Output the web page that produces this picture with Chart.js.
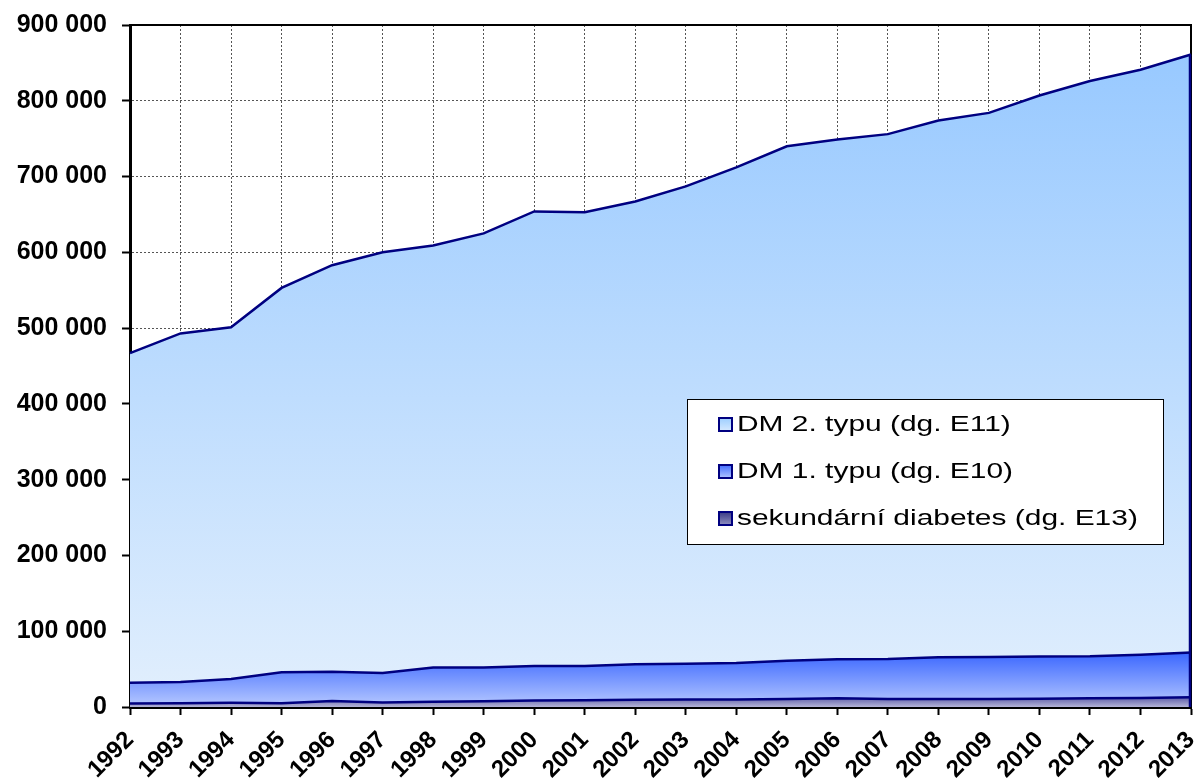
<!DOCTYPE html>
<html>
<head>
<meta charset="utf-8">
<script src="https://cdn.jsdelivr.net/npm/chart.js@4.4.1/dist/chart.umd.min.js"></script>
<style>
    html, body { margin: 0; padding: 0; background: #ffffff; }
    #wrap { width: 1200px; height: 782px; }
</style>
</head>
<body>
<div id="wrap"><canvas id="graf"></canvas></div>
<script>

// ================= DATI =================

const roky = ["1992", "1993", "1994", "1995", "1996", "1997", "1998", "1999", "2000", "2001", "2002",
    "2003", "2004", "2005", "2006", "2007", "2008", "2009", "2010", "2011", "2012", "2013"];

const dm2 = [435000, 460000, 464000, 507000, 536500, 555000, 557000, 573000, 600000, 599000, 610500,
    630000, 654000, 679000, 686000, 692500, 708500, 718000, 740500, 759000, 772000, 789000];

const dm1 = [27500, 28000, 31500, 41000, 38500, 39000, 45000, 44500, 45500, 45000, 47000,
    47000, 48000, 50500, 51500, 53000, 55000, 55500, 55500, 55500, 57000, 59000];

const sekundarni = [4500, 5000, 5500, 5000, 8000, 6000, 7000, 7500, 8500, 9000, 9500,
    10000, 10000, 10500, 11500, 10500, 10500, 10500, 11000, 11500, 12000, 13000];

const nazvy = ["DM 2. typu (dg. E11)", "DM 1. typu (dg. E10)", "sekundární diabetes (dg. E13)"];

const osaYMax = 900000;
const osaYKrok = 100000;

// ================= POMOCNÉ =================

function formatCislo(v) {
    return String(v).replace(/\B(?=(\d{3})+(?!\d))/g, " ");
}

// gradient na výšku sady (od jejího maxima k nule)
function gradient(horniBarva, dolniBarva, vrchol) {
    return function (ctx) {
        const chart = ctx.chart;
        const area = chart.chartArea;
        if (!area) return horniBarva;
        const y = chart.scales.y;
        const g = chart.ctx.createLinearGradient(0, y.getPixelForValue(vrchol), 0, area.bottom);
        g.addColorStop(0, horniBarva);
        g.addColorStop(1, dolniBarva);
        return g;
    };
}

const soucty = roky.map((_, i) => dm2[i] + dm1[i] + sekundarni[i]);

// ================= PLUGINY =================

const ramecek = {
    id: "ramecek",
    beforeDatasetsDraw(chart) {
        const { ctx, chartArea: a } = chart;
        ctx.save();
        ctx.strokeStyle = "#000000";
        ctx.lineWidth = 2;
        ctx.beginPath();
        ctx.moveTo(a.left, a.top);
        ctx.lineTo(a.right, a.top);
        ctx.lineTo(a.right, a.bottom);
        ctx.stroke();
        ctx.restore();
    },
    afterDatasetsDraw(chart) {
        const { ctx, chartArea: a } = chart;
        const y = chart.scales.y;
        ctx.save();
        ctx.strokeStyle = "#000080";
        ctx.lineWidth = 2.5;
        ctx.beginPath();
        ctx.moveTo(a.right - 1, y.getPixelForValue(soucty[soucty.length - 1]));
        ctx.lineTo(a.right - 1, a.bottom);
        ctx.stroke();
        ctx.restore();
    }
};

const legenda = {
    id: "legenda",
    afterDraw(chart) {
        const ctx = chart.ctx;
        const x = 687, y = 399, w = 476, h = 145;
        ctx.save();
        ctx.fillStyle = "#ffffff";
        ctx.fillRect(x, y, w, h);
        ctx.strokeStyle = "#000000";
        ctx.lineWidth = 1;
        ctx.strokeRect(x + 0.5, y + 0.5, w, h);

        const barvy = [["#d6e9ff", "#99ccff"], ["#b0c4ff", "#3a66ff"], ["#9090c0", "#333380"]];
        ctx.font = "22px 'Liberation Sans', Arial, sans-serif";
        ctx.textBaseline = "middle";
        nazvy.forEach((t, i) => {
            const ty = y + 25 + i * 47;
            const g = ctx.createLinearGradient(0, ty - 7, 0, ty + 7);
            g.addColorStop(0, barvy[i][1]);
            g.addColorStop(1, barvy[i][0]);
            ctx.fillStyle = g;
            ctx.fillRect(719, ty - 6, 13, 13);
            ctx.strokeStyle = "#000080";
            ctx.lineWidth = 2;
            ctx.strokeRect(719, ty - 6, 13, 13);
            ctx.fillStyle = "#000000";
            // text v originále je vodorovně roztažený
            ctx.save();
            ctx.translate(737, ty + 1);
            ctx.scale(1.36, 1);
            ctx.fillText(t, 0, 0);
            ctx.restore();
        });
        ctx.restore();
    }
};

// ================= GRAF =================

const spolecne = {
    borderColor: "#000080",
    borderWidth: 2.5,
    pointRadius: 0,
    tension: 0
};

const mrizka = {
    color: "#555555",
    lineWidth: 1,
    drawTicks: true,
    tickLength: 8,
    tickColor: "#000000",
    tickWidth: 2,
    tickBorderDash: []
};

new Chart(document.getElementById("graf").getContext("2d"), {

    type: "line",

    data: {
        labels: roky,
        datasets: [
            Object.assign({
                label: nazvy[2],
                data: sekundarni,
                fill: "origin",
                backgroundColor: gradient("#5c5ca8", "#b4b4d8", 13000)
            }, spolecne),
            Object.assign({
                label: nazvy[1],
                data: dm1,
                fill: "-1",
                backgroundColor: gradient("#3a66ff", "#b8caff", 72000)
            }, spolecne),
            Object.assign({
                label: nazvy[0],
                data: dm2,
                fill: "-1",
                backgroundColor: gradient("#98c9ff", "#e2effd", 861000)
            }, spolecne)
        ]
    },

    plugins: [ramecek, legenda],

    options: {
        responsive: true,
        maintainAspectRatio: false,
        animation: false,
        layout: { padding: { top: 25, right: 9, left: 0, bottom: 0 } },
        plugins: {
            legend: { display: false },
            tooltip: { enabled: false }
        },
        scales: {
            x: {
                offset: false,
                grid: mrizka,
                border: { display: true, color: "#000000", width: 3, dash: [2, 2] },
                ticks: {
                    color: "#000000",
                    font: { family: "'Liberation Sans', Arial, sans-serif", size: 24, weight: "bold" },
                    minRotation: 45,
                    maxRotation: 45,
                    autoSkip: false,
                    padding: 11
                },
                afterFit(scale) {
                    scale.height = 75;
                    scale.paddingLeft = 0;
                    scale.paddingRight = 0;
                }
            },
            y: {
                stacked: true,
                min: 0,
                max: osaYMax,
                grid: mrizka,
                border: { display: true, color: "#000000", width: 3, dash: [2, 2] },
                ticks: {
                    stepSize: osaYKrok,
                    color: "#000000",
                    padding: 15,
                    font: { family: "'Liberation Sans', Arial, sans-serif", size: 25, weight: "bold" },
                    callback: v => formatCislo(v)
                },
                afterFit(scale) {
                    scale.width = 130;
                    scale.paddingTop = 0;
                    scale.paddingBottom = 0;
                }
            }
        }
    }

});

</script>
</body>
</html>
